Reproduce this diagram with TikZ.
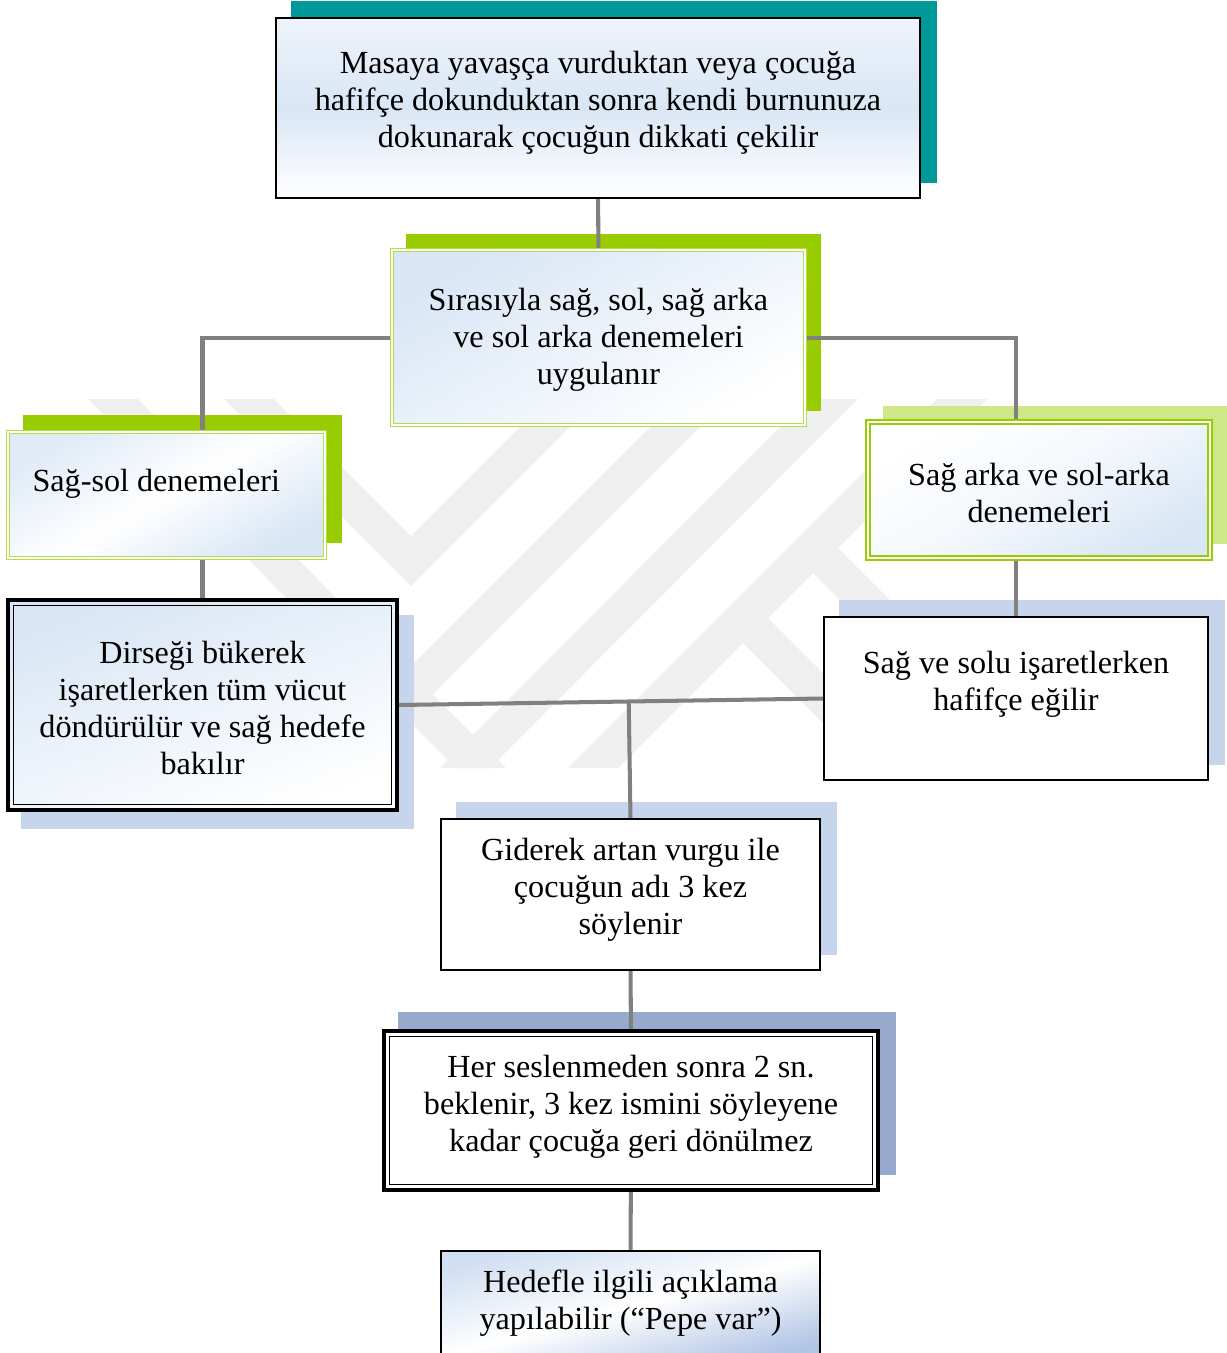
\documentclass[tikz,border=0pt]{standalone}
\usepackage{fontspec}
\setmainfont{Liberation Serif}
\usetikzlibrary{calc}

\definecolor{tealback}{RGB}{0,153,153}
\definecolor{limeback}{RGB}{153,204,0}
\definecolor{limeedge}{RGB}{180,222,70}
\definecolor{limesoft}{RGB}{206,231,135}
\definecolor{skyback}{RGB}{198,212,236}
\definecolor{steelback}{RGB}{151,170,205}
\definecolor{paleblue}{RGB}{217,230,245}
\definecolor{deepblue}{RGB}{176,196,228}
\definecolor{wiregray}{RGB}{128,128,128}
\definecolor{markgray}{RGB}{239,239,239}

\pgfdeclarelayer{back}
\pgfdeclarelayer{mid}
\pgfsetlayers{back,mid,main}

% flat offset shadow behind a box: colour, shift, node
\newcommand{\backdrop}[3]{\fill[#1] ([shift={(#2)}]#3.south west) rectangle ([shift={(#2)}]#3.north east);}

\begin{document}
\begin{tikzpicture}[
    x=0.373pt, y=-0.373pt,
    sz/.style 2 args={minimum width=#1*0.373pt, minimum height=#2*0.373pt},
    box/.style={rectangle, inner sep=0pt},
    thinline/.style={draw=black, line width=0.8pt},
    heavyline/.style={draw=black, line width=1.5pt,
        path picture={\draw[line width=0.5pt]
            ([shift={(2.1pt,-2.1pt)}]path picture bounding box.north west) rectangle
            ([shift={(-2.1pt,2.1pt)}]path picture bounding box.south east);}},
    greenline/.style={draw=limeedge, line width=0.6pt, double=white, double distance=0.5pt},
    boldgreen/.style={draw=limeback, line width=0.9pt, double=white, double distance=0.4pt},
    txt/.style={font=\fontsize{12}{13.8}\selectfont, align=center, inner sep=0pt},
    wire/.style={draw=wiregray, line width=1.5pt}
]
\useasboundingbox (0,0) rectangle (1227,1353);

% boxes
\node[box, thinline, sz={644}{180}, top color=paleblue!45, bottom color=white, middle color=paleblue] (top) at (598,108) {};
\node[box, greenline, sz={413}{175}, top color=paleblue, bottom color=white, shading angle=30] (sira) at (598.5,337.5) {};
\node[box, greenline, sz={317}{126}, top color=paleblue!80, bottom color=paleblue, middle color=white, shading angle=30] (sagsol) at (166.5,495) {};
\node[box, boldgreen, sz={342}{136}, top color=white, bottom color=paleblue, middle color=paleblue!30, shading angle=30] (sagarka) at (1039,490) {};
\node[box, heavyline, sz={389}{210}, top color=paleblue, bottom color=white, shading angle=20] (dirsegi) at (202.5,705) {};
\node[box, thinline, fill=white, sz={384}{163}] (sagve) at (1016,698.5) {};
\node[box, thinline, fill=white, sz={379}{151}] (giderek) at (630.5,894.5) {};
\node[box, heavyline, fill=white, sz={494}{159}] (her) at (631,1110.5) {};
\node[box, thinline, sz={379}{112}, top color=paleblue!80!deepblue, bottom color=deepblue, middle color=white, shading angle=15] (hedef) at (630.5,1307) {};

% texts
\node[txt] (topT) at ($(top)+(0,-5)$) {Masaya yavaşça vurduktan veya çocuğa\\ hafifçe dokunduktan sonra kendi burnunuza\\ dokunarak çocuğun dikkati çekilir};
\node[txt] (siraT) at ($(sira)+(0,2)$) {Sırasıyla sağ, sol, sağ arka\\ ve sol arka denemeleri\\ uygulanır};
\node[txt, anchor=west] (sagsolT) at (32,484) {Sağ-sol denemeleri};
\node[txt] (sagarkaT) at ($(sagarka)+(0,3)$) {Sağ arka ve sol-arka\\ denemeleri};
\node[txt] (dirsegiT) at ($(dirsegi)+(0,3)$) {Dirseği bükerek\\ işaretlerken tüm vücut\\ döndürülür ve sağ hedefe\\ bakılır};
\node[txt] (sagveT) at ($(sagve)+(0,-14)$) {Sağ ve solu işaretlerken\\ hafifçe eğilir};
\node[txt] (giderekT) at ($(giderek)+(0,-5)$) {Giderek artan vurgu ile\\ çocuğun adı 3 kez\\ söylenir};
\node[txt] (herT) at ($(her)+(0,-4)$) {Her seslenmeden sonra 2 sn.\\ beklenir, 3 kez ismini söyleyene\\ kadar çocuğa geri dönülmez};
\node[txt] (hedefT) at (630.5,1303) {Hedefle ilgili açıklama\\ yapılabilir (“Pepe var”)};

\begin{pgfonlayer}{back}
% faint logo stripes in the background
\fill[markgray] (88,399) -- (138,399) -- (506,768) -- (456,768) -- cycle;
\fill[markgray] (808,399) -- (858,399) -- (490,768) -- (440,768) -- cycle;
\fill[markgray] (224,399) -- (274,399) -- (411,536) -- (548,399) -- (598,399) -- (411,586) -- cycle;
\fill[markgray] (678,399) -- (728,399) -- (359,768) -- (309,768) -- cycle;
\fill[markgray] (937,399) -- (987,399) -- (618,768) -- (568,768) -- cycle;
\fill[markgray] (743,593) -- (918,768) -- (868,768) -- (743,643) -- cycle;
\fill[markgray] (813,523) -- (1058,768) -- (1008,768) -- (813,573) -- cycle;

% shadows
\backdrop{tealback}{16,-16}{top}
\backdrop{limeback}{15,-15}{sira}
\backdrop{limeback}{16,-16}{sagsol}
\backdrop{limesoft}{16,-15}{sagarka}
\backdrop{skyback}{15,17}{dirsegi}
\backdrop{skyback}{16,-16}{sagve}
\backdrop{skyback}{16,-16}{giderek}
\backdrop{steelback}{16,-17}{her}
\end{pgfonlayer}

\begin{pgfonlayer}{mid}
% connectors
\draw[wire] (top) -- (sira);
\draw[wire] (sira.west) -| (dirsegi.north |- sagsol.north);
\draw[wire] (sira.east) -| (sagve.north |- sagarka.north);
\draw[wire] (dirsegi.north |- sagsol.south) -- (dirsegi.north);
\draw[wire] (sagve.north |- sagarka.south) -- (sagve.north);
\draw[wire] (dirsegi.east) -- (sagve.west);
\coordinate (fork) at ($(dirsegi.east)!(giderek.north)!(sagve.west)$);
\draw[wire] (fork) -- (giderek.north);
\draw[wire] (giderek) -- (her);
\draw[wire] (her) -- (hedef);
\end{pgfonlayer}

\end{tikzpicture}
\end{document}
